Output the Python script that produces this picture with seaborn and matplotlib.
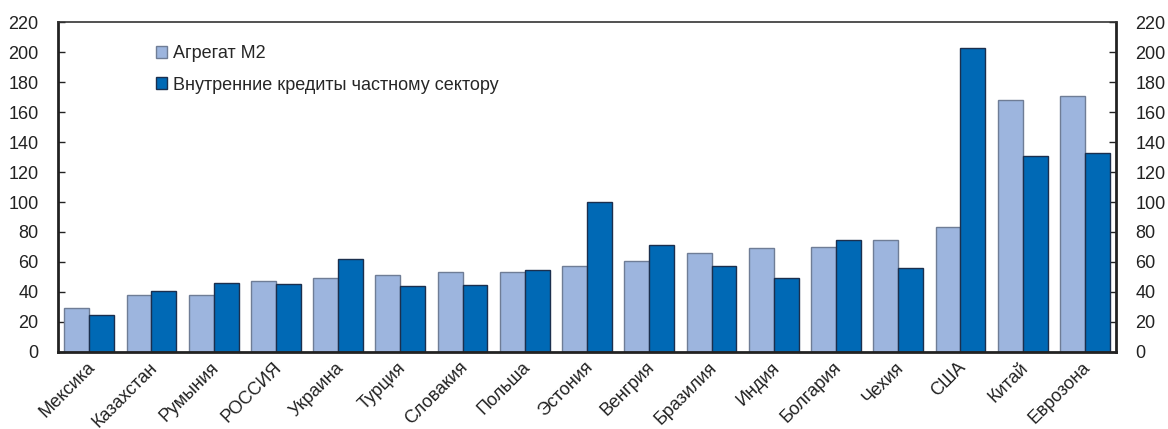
import matplotlib
matplotlib.use("Agg")
import matplotlib.pyplot as plt
import matplotlib.transforms as mtransforms
import seaborn as sns
import pandas as pd

countries = ["Мексика", "Казахстан", "Румыния", "РОССИЯ", "Украина", "Турция",
             "Словакия", "Польша", "Эстония", "Венгрия", "Бразилия", "Индия",
             "Болгария", "Чехия", "США", "Китай", "Еврозона"]
m2 = [29, 38, 38, 47.5, 49.5, 51, 53, 53, 57, 60.7, 66, 69.6, 70, 74.7, 83.6, 168, 171]
credit = [24.5, 40.5, 46, 45, 62, 44, 44.5, 54.8, 100, 71.5, 57, 49, 74.8, 56, 202.5, 131, 133]
series_names = ["Агрегат М2", "Внутренние кредиты частному сектору"]
yticks = list(range(0, 221, 20))

sns.set_theme(style="white")
plt.rcParams["font.family"] = ["Liberation Sans Narrow", "Liberation Sans", "DejaVu Sans"]

df = pd.DataFrame({
    "страна": countries * 2,
    "значение": m2 + credit,
    "ряд": [series_names[0]] * len(countries) + [series_names[1]] * len(countries),
})

colors = ["#9db5de", "#0069b5"]
edges = ["#6f7d96", "#1b2f4e"]

fig = plt.figure(figsize=(11.68, 4.29), dpi=100)
ax = fig.add_axes([0.0497, 0.1795, 0.9058, 0.7692])

sns.barplot(data=df, x="страна", y="значение", hue="ряд", palette=colors,
            width=0.8, gap=0, saturation=1, ax=ax, legend=True)

for container, ec in zip(ax.containers, edges):
    for bar in container:
        bar.set_edgecolor(ec)
        bar.set_linewidth(1.0)

ax.set_xlim(-0.5, len(countries) - 0.5)
ax.set_ylim(0, 220)
ax.set_yticks(yticks)
ax.set_xlabel("")
ax.set_ylabel("")

ax.tick_params(axis="y", direction="in", length=5, width=1, color="#222222",
               left=True, right=True, labelleft=True, labelright=True,
               labelsize=13, pad=14, labelcolor="#222222")
ax.tick_params(axis="x", length=0, labelsize=13, pad=5, labelcolor="#222222")
shift = mtransforms.ScaledTranslation(-0.03, 0, fig.dpi_scale_trans)
for lbl in ax.get_xticklabels():
    lbl.set_rotation(45)
    lbl.set_ha("right")
    lbl.set_rotation_mode("anchor")
    lbl.set_transform(lbl.get_transform() + shift)

for side in ["left", "bottom", "right"]:
    ax.spines[side].set_linewidth(2)
    ax.spines[side].set_color("#222222")
ax.spines["top"].set_linewidth(1.2)
ax.spines["top"].set_color("#333333")

leg = ax.legend(loc="upper left", bbox_to_anchor=(0.086, 0.952), frameon=False,
                fontsize=13, handlelength=0.62, handleheight=0.62, handletextpad=0.3,
                labelspacing=0.8, borderaxespad=0)
for h, ec in zip(leg.legend_handles, edges):
    h.set_edgecolor(ec)
    h.set_linewidth(1.0)

fig.savefig("out.png", dpi=100)
